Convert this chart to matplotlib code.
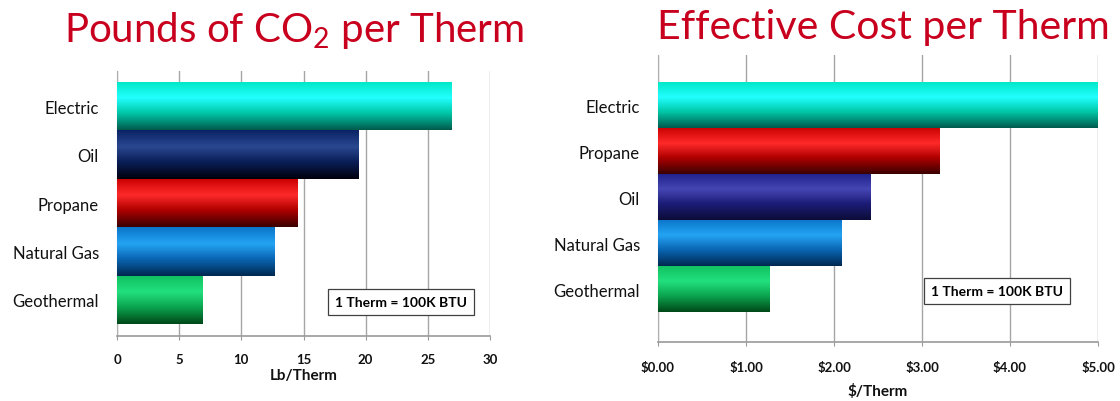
import numpy as np
import matplotlib
matplotlib.use("Agg")
import matplotlib.pyplot as plt
from matplotlib.colors import LinearSegmentedColormap

# ---------------- data ----------------
co2_categories = ["Electric", "Oil", "Propane", "Natural Gas", "Geothermal"]
co2_values = [26.9, 19.4, 14.5, 12.7, 6.9]
co2_ticks = [0, 5, 10, 15, 20, 25, 30]
co2_ticklabels = ["0", "5", "10", "15", "20", "25", "30"]

cost_categories = ["Electric", "Propane", "Oil", "Natural Gas", "Geothermal"]
cost_values = [5.0, 3.2, 2.42, 2.09, 1.27]
cost_ticks = [0, 1, 2, 3, 4, 5]
cost_ticklabels = ["$0.00", "$1.00", "$2.00", "$3.00", "$4.00", "$5.00"]

# gradient stops (bottom dark, mid, highlight, top)
grad = {
    "Electric": ["#005a4c", "#00c8a8", "#22ffff", "#00e6c4"],
    "Oil": ["#00000c", "#0a1e58", "#2a4890", "#0b2366"],
    "Propane": ["#3a0000", "#b00000", "#ff2a2a", "#c80000"],
    "Natural Gas": ["#002850", "#0a66b4", "#24a4f4", "#0a74c8"],
    "Geothermal": ["#004818", "#0ca650", "#22e07e", "#10c060"],
}
grad_oil_cost = ["#0c0c38", "#1c1c78", "#4646b4", "#20208a"]

plt.rcParams["font.family"] = ["Lato", "DejaVu Sans"]
plt.rcParams["mathtext.fontset"] = "custom"
plt.rcParams["mathtext.rm"] = "Lato"
plt.rcParams["mathtext.it"] = "Lato:italic"
plt.rcParams["mathtext.bf"] = "Lato:bold"

fig = plt.figure(figsize=(11.2, 4.02), dpi=100)
fig.patch.set_facecolor("white")

title_color = "#c8001e"


def draw_panel(ax, cats, vals, ticks, ticklabels, xlabel, xmax, ylims, stops_map,
               box_xy, label_pad, xlabel_pad, tick_pad):
    n = len(cats)
    ypos = np.arange(n)[::-1]
    bars = ax.barh(ypos, vals, height=1.0, color="none", edgecolor="none", zorder=3)
    g = np.linspace(0, 1, 200).reshape(-1, 1)
    for b, c in zip(bars, cats):
        stops = stops_map[c]
        cmap = LinearSegmentedColormap.from_list(
            "g", list(zip([0.0, 0.35, 0.66, 1.0], stops)))
        x0, y0 = b.get_x(), b.get_y()
        w, h = b.get_width(), b.get_height()
        im = ax.imshow(g, cmap=cmap, aspect="auto", origin="lower",
                       extent=(x0, x0 + w, y0, y0 + h), zorder=3,
                       interpolation="bilinear")
        im.set_clip_path(b)
    ax.set_xlim(0, xmax)
    ax.set_ylim(*ylims)
    ax.set_yticks(ypos)
    ax.set_yticklabels(cats, fontsize=12, color="#111111")
    ax.tick_params(axis="y", length=0, pad=label_pad)
    ax.set_xticks(ticks)
    ax.set_xticklabels(ticklabels, fontsize=9.5, fontweight="bold", color="#111111")
    ax.tick_params(axis="x", length=3, color="#999999", pad=tick_pad)
    ax.set_xlabel(xlabel, fontsize=11, fontweight="bold", labelpad=xlabel_pad,
                  color="#111111")
    ax.grid(axis="x", color="#a6a6a6", linewidth=1.0, zorder=1)
    for s in ["top", "right"]:
        ax.spines[s].set_visible(False)
    ax.spines["left"].set_color("#b0b0b0")
    ax.spines["bottom"].set_color("#999999")
    ax.spines["bottom"].set_linewidth(1.2)
    ax.text(box_xy[0], box_xy[1], "1 Therm = 100K BTU", transform=ax.transAxes,
            ha="center", va="center", fontsize=10, fontweight="bold", zorder=5,
            bbox=dict(boxstyle="square,pad=0.5", facecolor="white",
                      edgecolor="#404040", linewidth=0.9))


# left panel
axL = fig.add_axes([117 / 1120, (402 - 337) / 402, 373 / 1120, 265 / 402])
draw_panel(axL, co2_categories, co2_values, co2_ticks, co2_ticklabels, "Lb/Therm",
           30, (-0.747, 4.727), grad, ((401 - 117) / 373, (337 - 303) / 265),
           label_pad=13, xlabel_pad=2.5, tick_pad=9)

# right panel
grad_cost = dict(grad)
grad_cost["Oil"] = grad_oil_cost
axR = fig.add_axes([658 / 1120, (402 - 343) / 402, 440 / 1120, 287 / 402])
draw_panel(axR, cost_categories, cost_values, cost_ticks, cost_ticklabels, "$/Therm",
           5.0, (-1.152, 5.087), grad_cost, ((997 - 658) / 440, (343 - 292) / 287),
           label_pad=13, xlabel_pad=7, tick_pad=11)

fig.text(294 / 1120, (402 - 42) / 402, r"Pounds of CO$_\mathrm{2}$ per Therm",
         ha="center", va="baseline", fontsize=29, color=title_color)
fig.text(883 / 1120, (402 - 39) / 402, "Effective Cost per Therm",
         ha="center", va="baseline", fontsize=29.5, color=title_color)

fig.savefig("out.png", dpi=100, facecolor="white")
